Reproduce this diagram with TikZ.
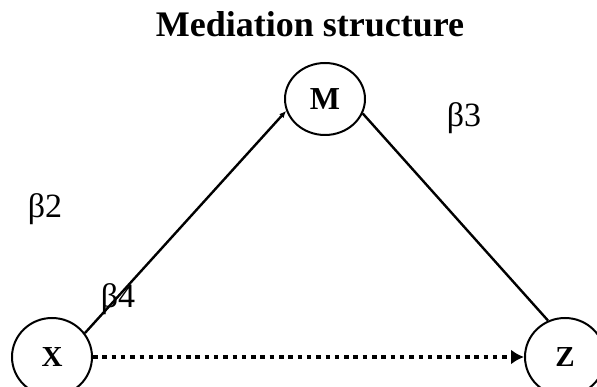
\documentclass[tikz,border=0pt]{standalone}
\usepackage{fontspec}
\setmainfont{Liberation Serif}
\usetikzlibrary{shapes.geometric,arrows.meta}

\begin{document}
\begin{tikzpicture}[
        x=1pt, y=-1pt,
        var/.style={
            draw,
            ellipse,
            line width=2pt,
            inner sep=0pt,
            minimum width=80pt,
            minimum height=78pt,
            font=\fontsize{29}{32}\selectfont\bfseries
        },
        coef/.style={
            anchor=base,
            inner sep=0pt,
            font=\fontsize{34}{38}\selectfont
        },
        path/.style={line width=2.4pt}
    ]
        \useasboundingbox (0,0) rectangle (597,387);

        \node (title) [anchor=base, inner sep=0pt, font=\fontsize{36}{40}\selectfont\bfseries] at (310,37) {Mediation structure};

        \node (m) [var, minimum height=72pt, font=\fontsize{32}{36}\selectfont\bfseries] at (325,99) {M};
        \node (x) [var] at (52,357) {X};
        \node (z) [var] at (565,357) {Z};

        \node (b2) [coef] at (45,218) {β2};
        \node (b3) [coef] at (464,127) {β3};
        \node (b4) [coef] at (118,308) {β4};

        \draw[path, -{Latex[length=7pt,width=6pt]}] (x.36) -- (m.197);
        \draw[path] (m.339) -- (z.115);
        \draw[line width=4.5pt, dash pattern=on 4.5pt off 4.8pt, -{Latex[length=13pt,width=15pt]}] (x) -- (z);
    \end{tikzpicture}
\end{document}
